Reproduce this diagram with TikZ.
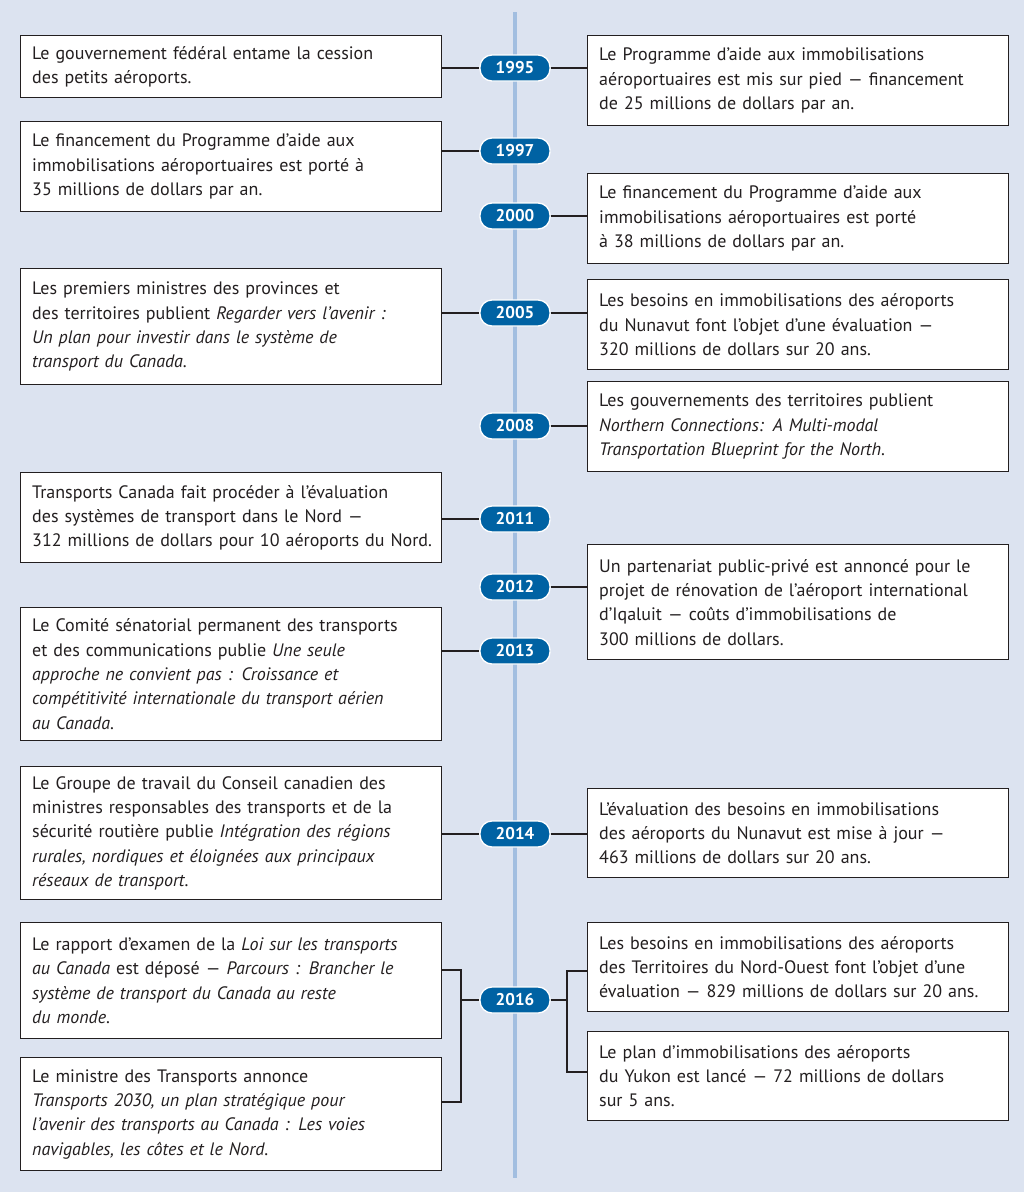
\documentclass[tikz,border=0pt]{standalone}
\usepackage{fontspec}
\setmainfont{PT Sans}
\usepackage{tikz}
\usetikzlibrary{positioning}
\definecolor{pagebg}{HTML}{DCE3F0}
\definecolor{spineblue}{HTML}{A2BEE0}
\definecolor{yearblue}{HTML}{0062A3}
\definecolor{inkgray}{HTML}{231F20}
\tikzset{
  evbox/.style={draw=inkgray,line width=1.4pt,fill=white,anchor=north west,
    text width=398pt,inner xsep=11.5pt,inner ysep=0pt,align=left,
    font=\fontsize{18}{24.3}\selectfont,text=inkgray},
  yearpill/.style={draw=white,line width=1.3pt,fill=yearblue,rounded corners=12pt,
    minimum width=70pt,minimum height=26pt,inner sep=0pt,text=white,
    font=\fontsize{17}{18}\selectfont\bfseries},
  link/.style={draw=inkgray,line width=1.3pt},
  spine/.style={draw=spineblue,line width=4pt},
}
\begin{document}
\begin{tikzpicture}[x=1pt,y=-1pt]
  \fill[pagebg] (0,0) rectangle (1024,1192);
  \coordinate (sTop) at (515,12);
  \coordinate (sBot) at (515,1178);
  \draw[spine] (sTop) -- (sBot);
  % year badges
  \node[yearpill] (y95) at (515,68) {1995};
  \node[yearpill] (y97) at (515,151) {1997};
  \node[yearpill] (y00) at (515,216) {2000};
  \node[yearpill] (y05) at (515,313) {2005};
  \node[yearpill] (y08) at (515,426) {2008};
  \node[yearpill] (y11) at (515,519) {2011};
  \node[yearpill] (y12) at (515,587) {2012};
  \node[yearpill] (y13) at (515,651) {2013};
  \node[yearpill] (y14) at (515,834) {2014};
  \node[yearpill] (y16) at (515,1000) {2016};
  % left column
  \node[evbox,minimum height=62pt] (l95) at (20,35) {Le gouvernement fédéral entame la cession\\des petits aéroports.};
  \node[evbox,minimum height=90pt] (l97) at (20,121) {Le financement du Programme d’aide aux\\immobilisations aéroportuaires est porté à\\35 millions de dollars par an.};
  \node[evbox,minimum height=116pt] (l05) at (20,268) {Les premiers ministres des provinces et\\des territoires publient \textit{Regarder vers l’avenir :}\\\textit{Un plan pour investir dans le système de}\\\textit{transport du Canada}.};
  \node[evbox,minimum height=90pt] (l11) at (20,472) {Transports Canada fait procéder à l’évaluation\\des systèmes de transport dans le Nord —\\\mbox{312 millions de dollars pour 10 aéroports du Nord.}};
  \node[evbox,minimum height=133pt] (l13) at (20,607) {Le Comité sénatorial permanent des transports\\et des communications publie \textit{Une seule}\\\textit{approche ne convient pas : Croissance et}\\\textit{compétitivité internationale du transport aérien}\\\textit{au Canada}.};
  \node[evbox,minimum height=133pt] (l14) at (20,766) {Le Groupe de travail du Conseil canadien des\\ministres responsables des transports et de la\\sécurité routière publie \textit{Intégration des régions}\\\textit{rurales, nordiques et éloignées aux principaux}\\\textit{réseaux de transport}.};
  \node[evbox,minimum height=116pt] (l16a) at (20,922) {Le rapport d’examen de la \textit{Loi sur les transports}\\\textit{au Canada} est déposé — \textit{Parcours : Brancher le}\\\textit{système de transport du Canada au reste}\\\textit{du monde}.};
  \node[evbox,minimum height=113pt] (l16b) at (20,1057) {Le ministre des Transports annonce\\\textit{Transports 2030, un plan stratégique pour}\\\textit{l’avenir des transports au Canada : Les voies}\\\textit{navigables, les côtes et le Nord}.};
  % right column
  \node[evbox,minimum height=90pt] (r95) at (587,35) {Le Programme d’aide aux immobilisations\\aéroportuaires est mis sur pied — financement\\de 25 millions de dollars par an.};
  \node[evbox,minimum height=90pt] (r00) at (587,173) {Le financement du Programme d’aide aux\\immobilisations aéroportuaires est porté\\à 38 millions de dollars par an.};
  \node[evbox,minimum height=90pt] (r05) at (587,279) {Les besoins en immobilisations des aéroports\\du Nunavut font l’objet d’une évaluation —\\320 millions de dollars sur 20 ans.};
  \node[evbox,minimum height=90pt] (r08) at (587,381) {Les gouvernements des territoires publient\\\textit{Northern Connections: A Multi-modal}\\\textit{Transportation Blueprint for the North}.};
  \node[evbox,minimum height=115pt] (r12) at (587,544) {Un partenariat public-privé est annoncé pour le\\projet de rénovation de l’aéroport international\\d’Iqaluit — coûts d’immobilisations de\\300 millions de dollars.};
  \node[evbox,minimum height=89pt] (r14) at (587,788) {L’évaluation des besoins en immobilisations\\des aéroports du Nunavut est mise à jour —\\463 millions de dollars sur 20 ans.};
  \node[evbox,minimum height=89pt] (r16a) at (587,922) {Les besoins en immobilisations des aéroports\\des Territoires du Nord-Ouest font l’objet d’une\\évaluation — 829 millions de dollars sur 20 ans.};
  \node[evbox,minimum height=89pt] (r16b) at (587,1031) {Le plan d’immobilisations des aéroports\\du Yukon est lancé — 72 millions de dollars\\sur 5 ans.};
  % connectors
  \draw[link] (l95.east |- y95) -- (y95.west);
  \draw[link] (y95.east) -- (r95.west |- y95);
  \draw[link] (l97.east |- y97) -- (y97.west);
  \draw[link] (y00.east) -- (r00.west |- y00);
  \draw[link] (l05.east |- y05) -- (y05.west);
  \draw[link] (y05.east) -- (r05.west |- y05);
  \draw[link] (y08.east) -- (r08.west |- y08);
  \draw[link] (l11.east |- y11) -- (y11.west);
  \draw[link] (y12.east) -- (r12.west |- y12);
  \draw[link] (l13.east |- y13) -- (y13.west);
  \draw[link] (l14.east |- y14) -- (y14.west);
  \draw[link] (y14.east) -- (r14.west |- y14);
  \coordinate (jl) at (461,1000);
  \coordinate (jr) at (567,1000);
  \draw[link] (l16a.east |- 0,970) -| (jl) |- (l16b.east |- 0,1102);
  \draw[link] (jl) -- (y16.west);
  \draw[link] (r16a.west |- 0,971) -| (jr) |- (r16b.west |- 0,1072);
  \draw[link] (y16.east) -- (jr);
\end{tikzpicture}
\end{document}
